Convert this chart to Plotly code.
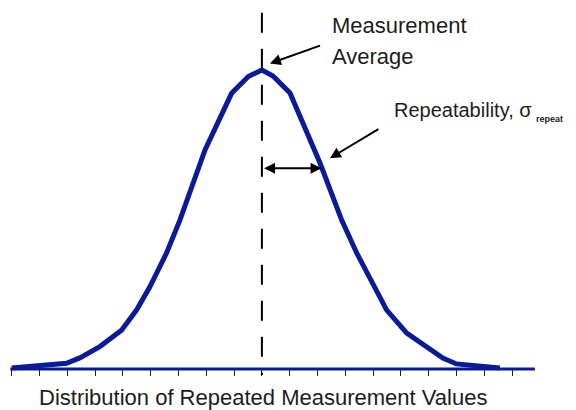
import plotly.graph_objects as go

# ---- data (x in tick units from the mean, y relative to peak) ----
curve_x = [-9.0, -7.03, -6.55, -5.83, -5.05, -4.51, -4.03, -3.43, -2.95, -2.05, -1.09, -0.49,
           0.0, 0.40, 1.01, 2.09, 2.87, 3.41, 4.49, 5.21, 6.51, 7.00, 8.56]
curve_y = [0.003, 0.019, 0.037, 0.075, 0.130, 0.197, 0.275, 0.388, 0.498, 0.732, 0.922, 0.978,
           1.0, 0.980, 0.923, 0.689, 0.498, 0.388, 0.197, 0.120, 0.037, 0.017, 0.003]
tick_vals = list(range(-9, 10))
mean_x = 0.0
sigma_x = 2.147

BLUE = "#0b1a98"
TXT = "#1c1c1c"
FONT = "Liberation Sans, Arial, sans-serif"
W, H = 576, 410

def px(xp):
    return xp / W

def py(yp):
    return 1 - yp / H

fig = go.Figure()
fig.add_trace(go.Scatter(x=curve_x, y=curve_y, mode="lines",
                         line=dict(color=BLUE, width=5), hoverinfo="skip", showlegend=False))

shapes = [
    # baseline (axis line)
    dict(type="line", xref="x", yref="y", x0=tick_vals[0] - 0.05, x1=tick_vals[-1] + 0.82,
         y0=0, y1=0, line=dict(color=BLUE, width=3), layer="below"),
    # dashed mean line
    dict(type="line", xref="x", yref="y", x0=mean_x, x1=mean_x, y0=1.1916, y1=-0.02,
         line=dict(color="black", width=2, dash="20px,16px")),
]

annotations = [
    dict(xref="paper", yref="paper", x=px(330), y=py(25), text="Measurement", showarrow=False,
         xanchor="left", yanchor="middle", font=dict(family=FONT, size=22, color=TXT)),
    dict(xref="paper", yref="paper", x=px(330), y=py(56), text="Average", showarrow=False,
         xanchor="left", yanchor="middle", font=dict(family=FONT, size=22, color=TXT)),
    dict(xref="paper", yref="paper", x=px(392), y=py(110), text="Repeatability, σ", showarrow=False,
         xanchor="left", yanchor="middle", font=dict(family=FONT, size=20, color=TXT)),
    dict(xref="paper", yref="paper", x=px(534), y=py(119), text="<b>repeat</b>", showarrow=False,
         xanchor="left", yanchor="middle", font=dict(family=FONT, size=9, color=TXT)),
    dict(xref="paper", yref="paper", x=px(262.5), y=py(397),
         text="Distribution of Repeated Measurement Values", showarrow=False,
         xanchor="center", yanchor="middle", font=dict(family=FONT, size=22, color=TXT)),
    # arrow to the mean
    dict(xref="x", yref="y", x=0.288, y=1.022, ax=51.7, ay=-18.3, text="", showarrow=True,
         arrowhead=2, arrowsize=1.1, arrowwidth=2, arrowcolor="black", standoff=0),
    # arrow to the curve (repeatability)
    dict(xref="x", yref="y", x=2.446, y=0.705, ax=50, ay=-30, text="", showarrow=True,
         arrowhead=2, arrowsize=1.1, arrowwidth=2, arrowcolor="black", standoff=0),
    # double arrow mean -> one sigma
    dict(xref="x", yref="y", x=sigma_x, y=0.671, ax=-59, ay=0, text="", showarrow=True,
         arrowhead=2, startarrowhead=2, arrowside="end+start", arrowsize=1.1, startarrowsize=1.1,
         arrowwidth=2, arrowcolor="black", standoff=0, startstandoff=0),
]

fig.update_layout(
    width=W, height=H,
    margin=dict(l=0, r=0, t=0, b=0),
    paper_bgcolor="white", plot_bgcolor="white",
    shapes=shapes, annotations=annotations,
    xaxis=dict(range=[-9.421, 11.299], anchor="free", position=0.1,
               tickvals=tick_vals, showticklabels=False, ticks="outside", ticklen=6,
               tickwidth=1, tickcolor="#222", showgrid=False, zeroline=False, showline=False,
               fixedrange=True),
    yaxis=dict(range=[-0.1371, 1.2341], visible=False, showgrid=False, zeroline=False,
               fixedrange=True),
    showlegend=False,
)

fig.write_html("out.html", config={"displayModeBar": False},
               post_script="document.body.style.margin='0';document.body.style.overflow='hidden';")
